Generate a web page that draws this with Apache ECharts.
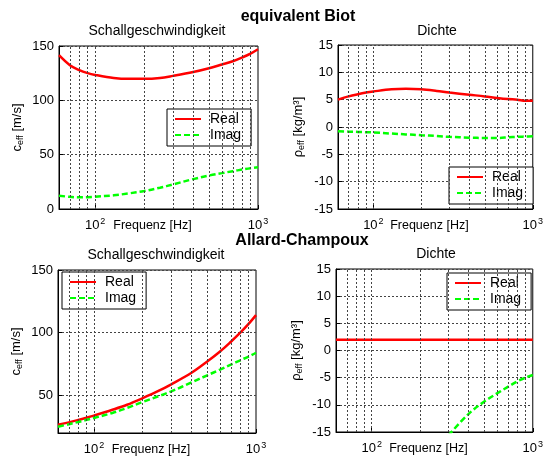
<!DOCTYPE html>
<html>
<head>
<meta charset="utf-8">
<script src="https://cdn.jsdelivr.net/npm/echarts@6/dist/echarts.min.js"></script>
<style>
  html, body { margin: 0; padding: 0; background: #fff; }
  #chart { width: 546px; height: 459px; }
</style>
</head>
<body>
<div id="chart"></div>
<script>
// frequency points the curves were read at [Hz]
const freq = [60, 70, 80, 90, 100, 130, 160, 200, 250, 300, 400, 500, 600, 700, 800, 900, 1000];
// dotted vertical grid lines of the log axis
const xGridLines = [70, 80, 90, 100, 200, 300, 400, 500, 600, 700, 800, 900];

// equivalent Biot
const biotSpeedReal = [141.5, 132.3, 127.7, 125, 123.4, 120.6, 119.8, 119.8, 120.6, 122.5, 126, 129.5, 133, 136, 139.5, 143, 147];
const biotSpeedImag = [12.2, 11.2, 10.7, 10.9, 11.3, 12.6, 14.3, 16.5, 19.6, 22.6, 27.5, 30.8, 33, 34.8, 36.3, 37.6, 38.5];
const biotDensReal = [5.0, 5.6, 6.0, 6.3, 6.5, 6.9, 7.0, 6.9, 6.6, 6.3, 5.9, 5.6, 5.3, 5.1, 5.0, 4.8, 4.8];
const biotDensImag = [-0.8, -0.85, -0.9, -0.95, -1.0, -1.2, -1.35, -1.5, -1.65, -1.8, -1.95, -2.0, -2.0, -1.9, -1.8, -1.75, -1.7];

// Allard-Champoux
const acSpeedReal = [26.6, 28.5, 30.4, 32.2, 33.9, 38.5, 42.5, 47.8, 53.5, 58.8, 68, 77, 85, 92.8, 100, 107, 114];
const acSpeedImag = [25, 27, 28.8, 30.5, 32, 36, 40, 44.8, 49.3, 53.2, 60.3, 66, 70.5, 74.5, 78, 81, 84];
const acDensReal = [2, 2, 2, 2, 2, 2, 2, 2, 2, 2, 2, 2, 2, 2, 2, 2, 2];
const acDensImag = [null, null, null, null, null, null, null, null, null, -15.6, -11.65, -9.4, -7.9, -6.7, -5.7, -5.0, -4.5];

const FONT = "'Liberation Sans', Arial, sans-serif";
const gridDot = { color: '#444', type: [2, 2], width: 1 };

const pairs = (arr) => freq.map((f, i) => [f, arr[i]]);

const chart = echarts.init(document.getElementById('chart'));

const grids = [
  { left: 59, top: 46, width: 199, height: 163 },
  { left: 338, top: 45, width: 198, height: 164 },
  { left: 58, top: 270, width: 198, height: 163 },
  { left: 336, top: 269, width: 200, height: 163 },
];

function xAxis(i) {
  return {
    type: 'log', gridIndex: i, min: 60, max: 1000, logBase: 10,
    name: 'Frequenz [Hz]', nameLocation: 'middle', nameGap: 10, nameMoveOverlap: false,
    nameTextStyle: { fontSize: 12.5, color: '#000', padding: [0, 12, 0, 0] },
    axisLine: { onZero: false, lineStyle: { color: '#000' } },
    axisTick: { inside: true, length: 4, lineStyle: { color: '#000' } },
    splitLine: { show: false },
    axisLabel: {
      margin: 8, color: '#000', fontSize: 13,
      formatter: (v) => {
        const r = Math.round(v);
        if (r === 100) return '10{sup|2}';
        if (r === 1000) return '10{sup|3}';
        return '';
      },
      rich: { sup: { fontSize: 9, verticalAlign: 'top', padding: [0, 0, 8, 1], color: '#000' } }
    }
  };
}

function yAxis(i, min, max, opts, name) {
  return Object.assign({
    type: 'value', gridIndex: i, min: min, max: max,
    name: name, nameLocation: 'middle', nameRotate: 90, nameMoveOverlap: false,
    nameTextStyle: {
      fontSize: 13, color: '#000',
      rich: { sub: { fontSize: 9, verticalAlign: 'bottom', padding: [6, 0, 0, 0], color: '#000' } }
    },
    axisLine: { show: true, onZero: false, lineStyle: { color: '#000' } },
    axisTick: { inside: true, length: 4, lineStyle: { color: '#000' } },
    splitLine: { show: true, lineStyle: gridDot },
    axisLabel: { margin: 5, color: '#000', fontSize: 13 }
  }, opts);
}

function curves(i, real, imag) {
  return [
    {
      type: 'line', name: 'grid', xAxisIndex: i, yAxisIndex: i, data: [], z: 1,
      markLine: {
        silent: true, symbol: 'none', label: { show: false },
        lineStyle: gridDot, animation: false,
        data: xGridLines.map((v) => ({ xAxis: v }))
      }
    },
    {
      type: 'line', name: 'Real', xAxisIndex: i, yAxisIndex: i, data: pairs(real),
      symbol: 'none', smooth: 0.35, color: '#ff0000',
      lineStyle: { color: '#ff0000', width: 2.5 }
    },
    {
      type: 'line', name: 'Imag', xAxisIndex: i, yAxisIndex: i, data: pairs(imag),
      symbol: 'none', smooth: 0.35, color: '#00ff00',
      lineStyle: { color: '#00ff00', width: 2.5, type: [6, 3] }
    }
  ];
}

function legend(left, top) {
  return {
    data: ['Real', 'Imag'], left: left, top: top, orient: 'vertical',
    backgroundColor: '#fff', borderColor: '#000', borderWidth: 1, borderRadius: 0,
    padding: [3, 10, 4, 7], itemWidth: 26, itemHeight: 14, itemGap: 2,
    selectedMode: false,
    itemStyle: { opacity: 0 },
    textStyle: { fontSize: 14, color: '#000', padding: [0, 0, 0, 4] }
  };
}

function title(text, x, y, bold) {
  return {
    text: text, left: x, top: y, padding: 0,
    textAlign: 'center', textVerticalAlign: 'middle',
    textStyle: { fontSize: bold ? 16 : 14, fontWeight: bold ? 'bold' : 'normal', color: '#000', fontFamily: FONT }
  };
}

chart.setOption({
  animation: false,
  textStyle: { fontFamily: FONT },
  title: [
    title('equivalent Biot', 298, 17, true),
    title('Allard-Champoux', 302, 241, true),
    title('Schallgeschwindigkeit', 157, 31, false),
    title('Dichte', 437, 31, false),
    title('Schallgeschwindigkeit', 156, 255, false),
    title('Dichte', 436, 254, false),
  ],
  legend: [legend(167, 109), legend(449, 167), legend(62, 272), legend(447, 273)],
  grid: grids.map((g) => Object.assign({ show: true, borderColor: '#000', borderWidth: 1, backgroundColor: '#fff' }, g)),
  xAxis: [0, 1, 2, 3].map(xAxis),
  yAxis: [
    yAxis(0, 0, 150, { interval: 50, nameGap: 34 }, 'c{sub|eff} [m/s]'),
    yAxis(1, -15, 15, { interval: 5, nameGap: 32 }, '\u03c1{sub|eff} [kg/m\u00b3]'),
    yAxis(2, 20, 150, { splitNumber: 3, nameGap: 34, axisLabel: { margin: 5, color: '#000', fontSize: 13, showMinLabel: false } }, 'c{sub|eff} [m/s]'),
    yAxis(3, -15, 15, { interval: 5, nameGap: 32 }, '\u03c1{sub|eff} [kg/m\u00b3]'),
  ],
  series: [].concat(
    curves(0, biotSpeedReal, biotSpeedImag),
    curves(1, biotDensReal, biotDensImag),
    curves(2, acSpeedReal, acSpeedImag),
    curves(3, acDensReal, acDensImag)
  )
});
</script>
</body>
</html>
